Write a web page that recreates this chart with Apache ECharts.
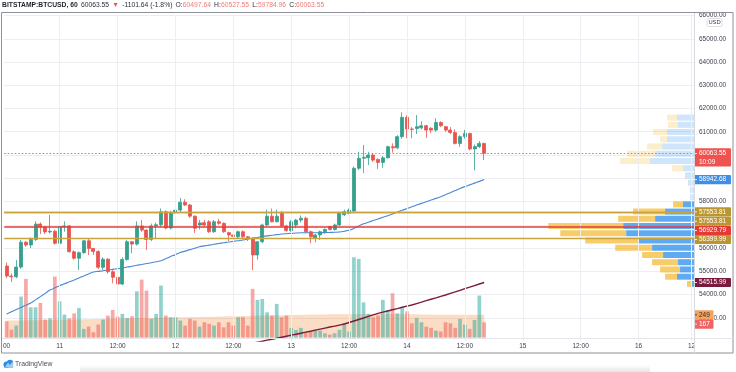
<!DOCTYPE html>
<html><head><meta charset="utf-8">
<script src="https://cdn.jsdelivr.net/npm/echarts@6/dist/echarts.min.js"></script>
<style>html,body{margin:0;padding:0;background:#fff}#c{width:736px;height:372px}</style>
</head><body><div id="c"></div>
<script>
// ---------------- DATA ----------------
const opens = [55225,54795,54760,55180,56250,56130,56370,57030,56900,56690,56720,56200,56920,56950,55840,55560,55800,56310,55980,55850,55170,55520,54980,54740,54450,55510,56270,56170,56950,56770,56370,56950,57000,57560,56860,57510,57630,57970,57850,57370,56990,57090,57130,56700,57130,57060,56660,56560,56480,56700,56480,56420,55700,56270,56990,57370,57130,57520,56950,56750,56990,57200,57280,56700,56420,56560,56700,56920,56800,56990,57430,57490,57590,59430,59860,59880,60000,59810,59680,59880,60360,60310,60790,61620,61120,61140,61170,61260,61150,61070,61400,61220,61070,60970,60500,60790,60930,60260,60360,60497.64];
const highs = [55380,54900,55480,56350,56300,56450,57150,57100,56950,57420,56780,57100,57150,56990,55900,55850,56350,56400,56000,55900,55600,55560,55050,54800,55600,56350,56300,57150,57200,56800,57050,57100,57700,57620,57600,57700,58150,58100,57900,57400,57200,57200,57200,57200,57250,57100,56700,56620,56750,56760,56520,56450,56300,57050,57650,57700,57650,57600,57000,57200,57250,57400,57350,56750,56600,56750,56850,56950,57050,57550,57650,57700,59500,60140,60430,60140,60050,59850,59950,60400,60500,60850,61840,61700,61200,61720,61450,61300,61200,61580,61450,61250,61200,61100,60850,61080,60950,60450,60600,60527.55];
const lows = [54700,54540,54700,55100,56050,56000,56300,56600,56600,56620,56150,55480,56700,55800,55500,55050,55750,55700,55700,55100,55050,54900,54480,54380,54400,55450,55780,56100,56700,55910,56300,56400,56900,56800,56800,57400,57550,57800,57300,56650,56800,56900,56650,56650,57000,56650,56300,56150,56400,56420,56300,55050,55500,56200,56950,57100,57100,56900,56700,56700,56850,57100,56650,56200,56250,56350,56600,56750,56750,56950,57380,57450,57550,59350,59220,59570,59700,59400,59450,59850,60100,60250,60700,60720,60720,60900,61100,60730,60950,61000,61200,61000,60900,60450,60350,60700,60200,59340,60300,59784.96];
const closes = [54795,54760,55180,56250,56130,56370,57030,56900,56690,56720,56200,56920,56950,55840,55560,55800,56310,55980,55850,55170,55520,54980,54740,54450,55510,56270,56170,56950,56770,56370,56950,57000,57560,56860,57510,57630,57970,57850,57370,56850,57080,56990,56700,57130,57060,56700,56560,56500,56700,56480,56420,55700,56270,56990,57370,57130,57370,56950,56750,57130,57200,57280,56700,56480,56560,56700,56800,56800,56990,57500,57560,57630,59430,59860,59900,60000,59780,59680,59880,60360,60310,60790,61620,61120,61100,61220,61260,61070,61070,61400,61260,61070,60970,60500,60790,60930,60260,60360,60500,60063.55];
const volumes = [178,87,131,448,641,331,331,379,197,211,666,396,251,211,265,324,95,120,58,142,197,240,302,229,259,215,233,505,633,513,204,259,568,240,222,222,186,131,204,186,120,167,150,131,167,112,167,131,222,222,131,532,412,422,276,240,368,222,240,106,84,106,58,66,84,76,47,33,47,84,156,66,877,859,385,259,222,240,412,302,484,265,331,287,156,215,167,120,106,76,66,167,156,106,204,142,95,193,459,167];
const volumeMA = [186,187,187,188,189,190,190,191,192,193,194,195,196,197,198,199,200,201,202,203,204,205,207,208,209,210,211,212,213,214,215,216,218,219,220,221,222,223,224,225,226,227,228,229,230,231,232,233,234,235,236,238,240,241,242,243,244,245,246,247,248,249,250,251,252,253,253,254,254,255,256,256,257,258,258,259,259,259,260,259,258,257,257,256,255,254,253,252,251,250,250,250,249,249,249,249,249,249,249,249];
const emaLine = [53160,53255,53350,53445,53540,53634,53770,53910,54050,54190,54290,54380,54460,54545,54623,54710,54800,54885,54967,54995,55020,55050,55080,55110,55140,55180,55215,55255,55290,55330,55367,55410,55453,55540,55630,55715,55805,55865,55930,55990,56055,56090,56125,56160,56195,56227,56255,56285,56315,56343,56380,56420,56455,56494,56520,56548,56575,56601,56615,56630,56643,56657,56657,56655,56658,56660,56665,56670,56678,56690,56720,56760,56840,56950,57040,57110,57180,57250,57320,57390,57460,57540,57620,57695,57770,57845,57920,57990,58060,58135,58205,58290,58380,58470,58560,58640,58715,58790,58865,58942.68];
const longMAStart = 50;
const longMA = [51870,51910,51950,51990,52035,52075,52118,52160,52205,52250,52290,52335,52380,52420,52465,52510,52555,52600,52640,52685,52730,52795,52860,52925,52990,53060,53125,53190,53240,53290,53345,53395,53450,53500,53550,53610,53670,53735,53795,53855,53920,53980,54045,54110,54180,54250,54315,54385,54450,54515.99];
const slotCount = 143;
const xTickIndex = [0,11,23,35,47,59,71,83,95,107,119,131,142];
const xTickLabels = ['00','11','12:00','12','12:00','13','12:00','14','12:00','15','12:00','16','12'];
const levelValues = [57553.81, 57553.81, 56929.79, 56399.99];
const levelKinds = ['gold','gold','red','gold'];
const lastPrice = 60063.55;
const countdown = '10:09';
const profileBottom = 54300;
const profileStep = 311;
const profileUp = [30,170,140,160,310,420,560,680,710,390,290,110,40,40,60,90,110,440,390,320,270,270,160,170];
const profileDown = [40,120,200,260,210,370,530,660,750,370,320,100,0,0,0,0,110,300,280,150,70,140,100,100];
const valueAreaRows = [0, 11];
const header = {sym:'BITSTAMP:BTCUSD, 60', last:'60063.55', chg:'-1101.64 (-1.8%)', o:'60497.64', h:'60527.55', l:'59784.96', c:'60063.55'};

// ---------------- CHART ----------------
const chart = echarts.init(document.getElementById('c'), null, {renderer:'canvas'});
const FONT = "'Liberation Sans', Arial, sans-serif";
const UP = '#35a08e', DOWN = '#e8554e';
const GOLD = '#c9a43a', GOLDBOX = '#bb9530', REDL = '#e33b3b';

const categories = Array.from({length: slotCount}, (_, i) => 'h' + i);
const tickMap = {};
xTickIndex.forEach((k, j) => tickMap[k] = xTickLabels[j]);

const candleData = opens.map((o, i) => [o, closes[i], lows[i], highs[i]]);
const volData = volumes.map((v, i) => ({value: v, itemStyle: {color: closes[i] >= opens[i] ? 'rgba(38,166,154,0.5)' : 'rgba(239,83,80,0.5)'}}));
const longData = opens.map((_, i) => i >= longMAStart ? longMA[i - longMAStart] : null);
const profileData = profileUp.map((u, k) => [profileBottom + k * profileStep, profileBottom + (k + 1) * profileStep, u, profileDown[k], (k >= valueAreaRows[0] && k <= valueAreaRows[1]) ? 1 : 0]);

const levelStyle = {gold: {color: GOLD, width: 1.3}, red: {color: REDL, width: 1.5}};

const option = {
  animation: false,
  backgroundColor: '#ffffff',
  textStyle: {fontFamily: FONT},
  grid: {left: 2.6, right: 42, top: 15.5, bottom: 31, containLabel: false},
  xAxis: [
    {type: 'category', data: categories, boundaryGap: true, gridIndex: 0,
     axisLine: {show: false}, axisTick: {show: false}, splitLine: {show: false},
     axisLabel: {interval: (i) => tickMap[i] !== undefined, formatter: (v, i) => tickMap[i] || '', fontSize: 6.5, color: '#3b3f4a', margin: 1.5, fontFamily: FONT}},
    {type: 'value', gridIndex: 0, show: false, inverse: true, min: 0, max: 6914, position: 'top'}
  ],
  yAxis: [
    {type: 'value', position: 'right', min: 52000, max: 66000, interval: 1000, gridIndex: 0,
     axisLine: {show: false}, axisTick: {show: false},
     splitLine: {show: true, showMinLine: false, lineStyle: {color: '#eceef3', width: 1}},
     axisLabel: {formatter: (v) => v.toFixed(2), fontSize: 6.5, color: '#3b3f4a', margin: 5, showMinLabel: false, fontFamily: FONT}},
    {type: 'value', gridIndex: 0, show: false, min: -37, max: 3516, splitLine: {show: false}}
  ],
  series: [
    {type: 'line', name: 'vgrid', data: [], xAxisIndex: 0, yAxisIndex: 0, z: 0, silent: true,
     markLine: {symbol: ['none', 'none'], silent: true, label: {show: false},
       lineStyle: {color: '#eceef3', width: 1, type: 'solid'},
       data: xTickIndex.slice(1).map(k => ({xAxis: categories[k]}))}},
    {type: 'bar', name: 'Volume', data: volData, xAxisIndex: 0, yAxisIndex: 1, barWidth: 3.7, z: 1, silent: true},
    {type: 'line', name: 'VolMA', data: volumeMA, xAxisIndex: 0, yAxisIndex: 1, symbol: 'none', z: 1,
     lineStyle: {width: 0}, areaStyle: {color: 'rgba(240,128,48,0.4)'}},
    {type: 'custom', name: 'VPVR', data: profileData, xAxisIndex: 1, yAxisIndex: 0, z: 1,
     encode: {x: 2, y: [0, 1]},
     renderItem: function (params, api) {
       const lo = api.value(0), hi = api.value(1), up = api.value(2), dn = api.value(3), va = api.value(4);
       const pR = api.coord([0, lo]);
       const yTop = api.coord([0, hi])[1] + 0.6;
       const yBot = pR[1] - 0.6;
       const xUp = api.coord([up, lo])[0];
       const xAll = api.coord([up + dn, lo])[0];
       return {type: 'group', children: [
         {type: 'rect', shape: {x: xUp, y: yTop, width: pR[0] - xUp, height: yBot - yTop}, style: {fill: va ? 'rgba(33,137,235,0.72)' : 'rgba(33,137,235,0.22)'}},
         {type: 'rect', shape: {x: xAll, y: yTop, width: xUp - xAll, height: yBot - yTop}, style: {fill: va ? 'rgba(244,185,50,0.72)' : 'rgba(244,185,50,0.25)'}}
       ]};
     }},
    {type: 'line', name: 'LongMA', data: longData, xAxisIndex: 0, yAxisIndex: 0, symbol: 'none', z: 3,
     lineStyle: {color: '#7a1b3a', width: 1.4}},
    {type: 'line', name: 'EMA', data: emaLine, xAxisIndex: 0, yAxisIndex: 0, symbol: 'none', z: 3, smooth: 0.3,
     lineStyle: {color: '#4a87d4', width: 1.1}},
    {type: 'candlestick', name: 'BTCUSD', data: candleData, xAxisIndex: 0, yAxisIndex: 0, barWidth: 3.5, z: 4,
     itemStyle: {color: UP, color0: DOWN, borderColor: UP, borderColor0: DOWN, borderWidth: 0.8},
     markLine: {symbol: ['none', 'none'], silent: true, label: {show: false},
       data: levelValues.map((v, i) => ({yAxis: v, lineStyle: Object.assign({type: 'solid'}, levelStyle[levelKinds[i]])}))
         .concat([{yAxis: lastPrice, lineStyle: {color: '#f06a66', width: 1, type: [1.5, 2]}}])}}
  ]
};
chart.setOption(option);

// -------- header, right-axis tags and frame (positions from the library's scales) --------
function yOf(v, axis) { return chart.convertToPixel({yAxisIndex: axis}, v); }
const AX = 694;
function tag(y, text, bg, fg, w, h) {
  h = h || 9.2;
  return {type: 'group', z: 50, children: [
    {type: 'rect', shape: {x: AX, y: y - h / 2, width: w, height: h, r: 1}, style: {fill: bg}, z: 50},
    {type: 'line', shape: {x1: AX + 0.5, y1: y, x2: AX + 3, y2: y}, style: {stroke: fg, lineWidth: 0.8}, z: 51},
    {type: 'text', x: AX + 5, y: y, style: {text: text, fill: fg, fontSize: 6.5, fontFamily: FONT, verticalAlign: 'middle', align: 'left'}, z: 51}
  ]};
}
const tags = [];
const yp = yOf(lastPrice, 0);
tags.push({type: 'group', z: 50, children: [
  {type: 'rect', shape: {x: AX, y: yp - 5.2, width: 37, height: 18.2, r: 1}, style: {fill: '#ef5350'}, z: 50},
  {type: 'line', shape: {x1: AX + 0.5, y1: yp, x2: AX + 3, y2: yp}, style: {stroke: '#fff', lineWidth: 0.8}, z: 51},
  {type: 'text', x: AX + 5, y: yp, style: {text: lastPrice.toFixed(2), fill: '#fff', fontSize: 6.5, fontFamily: FONT, verticalAlign: 'middle'}, z: 51},
  {type: 'text', x: AX + 5, y: yp + 8.6, style: {text: countdown, fill: '#fff', fontSize: 6.5, fontFamily: FONT, verticalAlign: 'middle'}, z: 51}
]});
const emaLast = emaLine[emaLine.length - 1];
tags.push(tag(yOf(emaLast, 0), emaLast.toFixed(2), '#3f8fe6', '#fff', 37));
const levelShift = [0, 9.4, 4.2, 0.8];
levelValues.forEach((v, i) => {
  tags.push(tag(yOf(v, 0) + levelShift[i], v.toFixed(2), levelKinds[i] === 'gold' ? GOLDBOX : '#e53935', '#fff', 37));
});
const longLast = longMA[longMA.length - 1];
tags.push(tag(yOf(longLast, 0), longLast.toFixed(2), '#7a1a3d', '#fff', 37));
const maLast = volumeMA[volumeMA.length - 1];
tags.push(tag(yOf(maLast, 1), String(maLast), '#f5a25f', '#2a2e39', 19.5));
const volLast = volumes[volumes.length - 1];
tags.push(tag(yOf(volLast, 1) + 1.8, String(volLast), '#ef6464', '#fff', 19.5));

const headerText = {type: 'text', z: 70, x: 2, y: 5.5, scaleX: 0.965, style: {
  text: '{b|' + header.sym + '} {n|' + header.last + '} {r|▼} {n|' + header.chg + '} {n|O:}{v|' + header.o + '} {n|H:}{v|' + header.h + '} {n|L:}{v|' + header.l + '} {n|C:}{v|' + header.c + '}',
  verticalAlign: 'middle', align: 'left',
  rich: {
    b: {fontFamily: FONT, fontSize: 7, fontWeight: 'bold', fill: '#1e222d'},
    n: {fontFamily: FONT, fontSize: 7, fill: '#2a2e39'},
    r: {fontFamily: FONT, fontSize: 7, fill: '#ef5350'},
    v: {fontFamily: FONT, fontSize: 7, fill: '#ef7b78'}
  }}};

const frame = [
  {type: 'rect', z: 60, shape: {x: AX + 1, y: 0, width: 42, height: 12.5}, style: {fill: '#fff'}},
  {type: 'rect', z: 61, shape: {x: 1.5, y: 12.5, width: 731.5, height: 340.5}, style: {fill: 'none', stroke: '#8e9199', lineWidth: 1}},
  {type: 'line', z: 61, shape: {x1: AX + 0.5, y1: 13, x2: AX + 0.5, y2: 353}, style: {stroke: '#d6d9e0', lineWidth: 1}},
  {type: 'line', z: 61, shape: {x1: 2, y1: 338.5, x2: 733, y2: 338.5}, style: {stroke: '#e3e5ea', lineWidth: 1}},
  {type: 'rect', z: 62, shape: {x: 707, y: 18.5, width: 15, height: 8, r: 1.5}, style: {fill: '#fff', stroke: '#c7cad1', lineWidth: 0.6}},
  {type: 'text', z: 63, x: 714.5, y: 22.8, style: {text: 'USD', fill: '#3b3f4a', fontSize: 5.8, fontFamily: FONT, align: 'center', verticalAlign: 'middle'}},
  {type: 'circle', z: 62, shape: {cx: 6.5, cy: 364.5, r: 3}, style: {fill: '#2f8be6'}},
  {type: 'circle', z: 62, shape: {cx: 10, cy: 363, r: 3.2}, style: {fill: '#2f8be6'}},
  {type: 'rect', z: 62, shape: {x: 4, y: 364, width: 9, height: 3.5}, style: {fill: '#2f8be6'}},
  {type: 'polygon', z: 63, shape: {points: [[5, 367], [8, 362.5], [10, 365], [12.5, 361.5], [13.5, 367]]}, style: {fill: '#9fcdf5'}},
  {type: 'text', z: 63, x: 15, y: 364.5, style: {text: 'TradingView', fill: '#4a4e5a', fontSize: 6.8, fontFamily: FONT, verticalAlign: 'middle'}},
  {type: 'rect', z: 1, shape: {x: 80, y: 365, width: 570, height: 7}, style: {fill: new echarts.graphic.LinearGradient(0, 0, 0, 1, [{offset: 0, color: 'rgba(0,0,0,0)'}, {offset: 1, color: 'rgba(0,0,0,0.10)'}])}}
];
chart.setOption({graphic: [headerText].concat(frame, tags)});
</script>
</body></html>
